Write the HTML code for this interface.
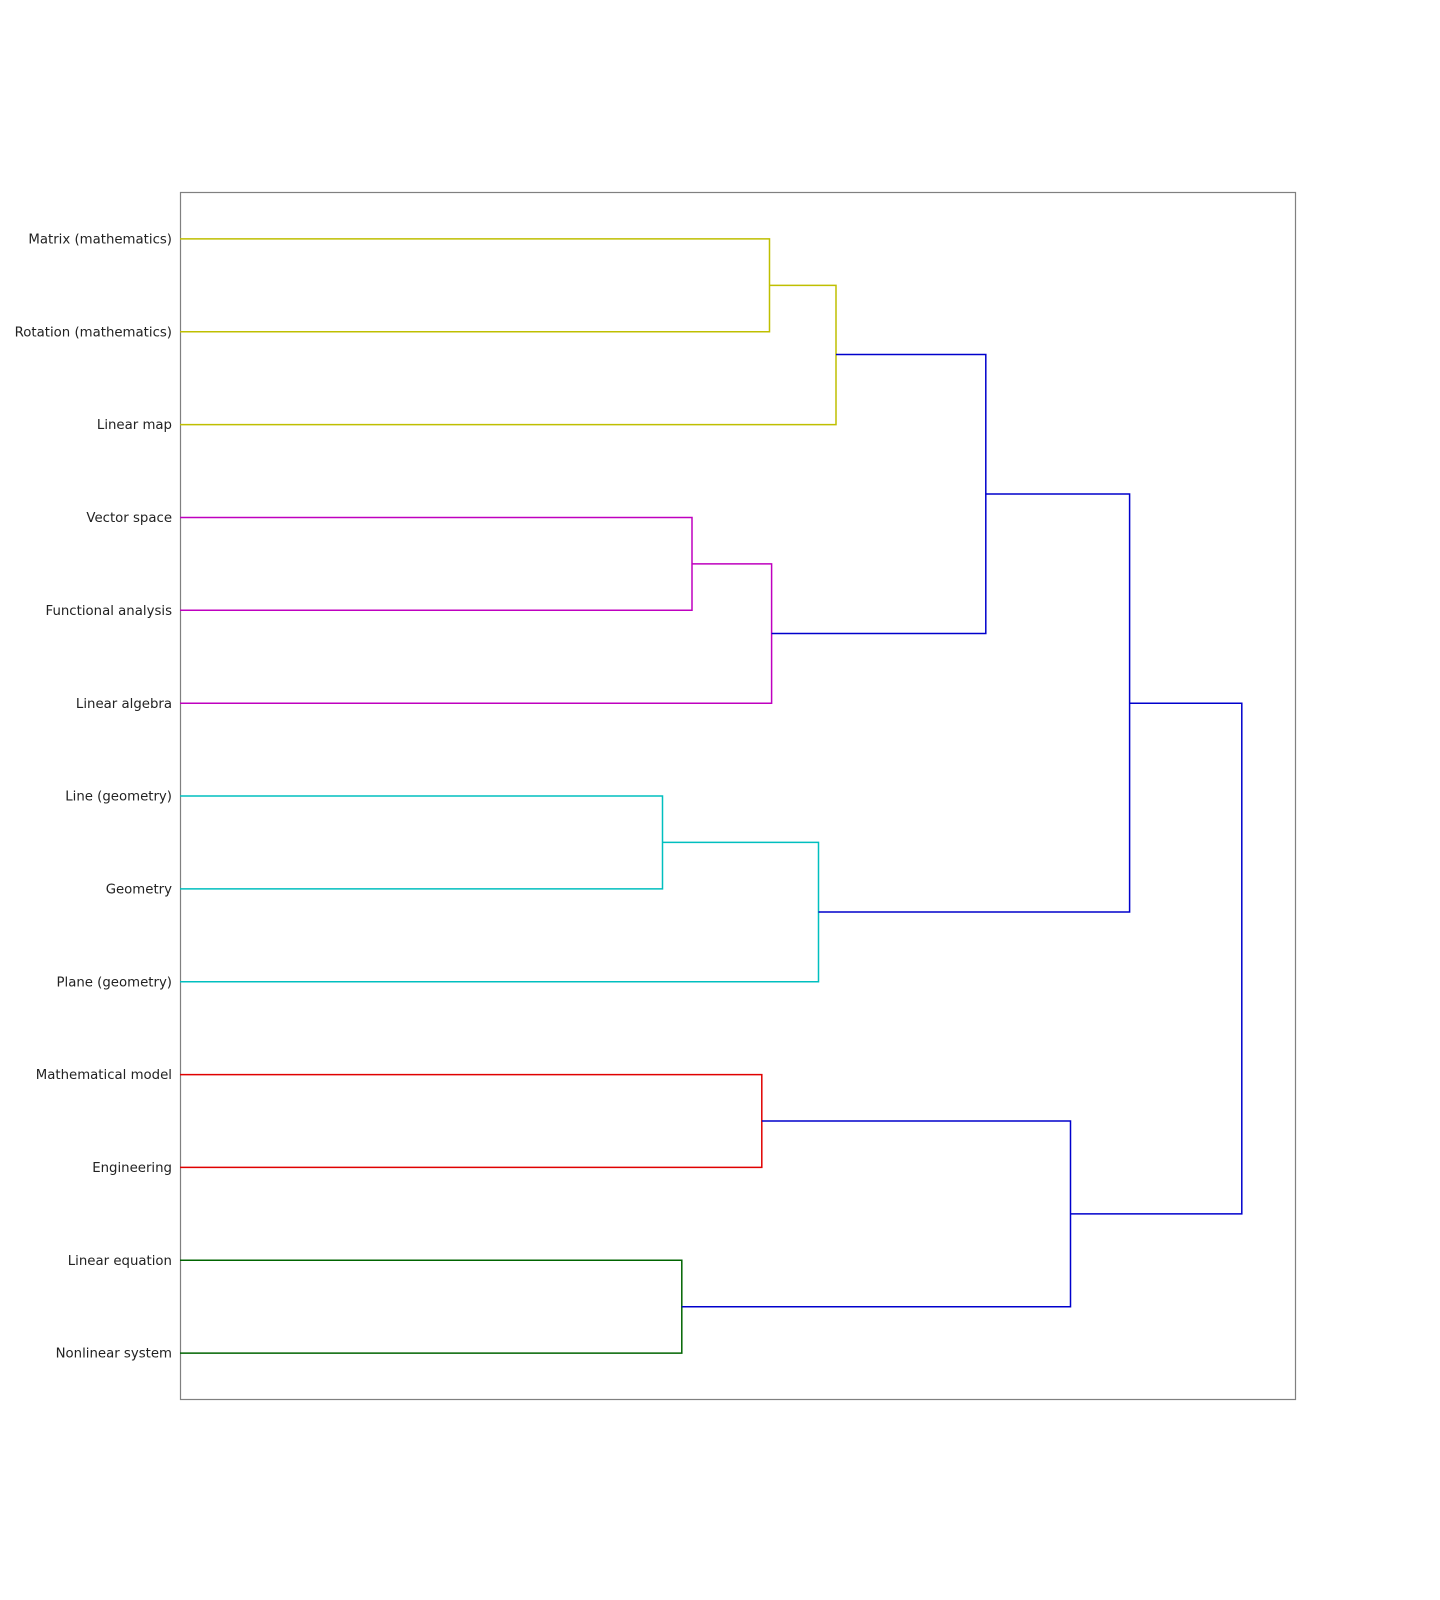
<!DOCTYPE html>
<html><head><meta charset="utf-8"><style>
html,body{margin:0;padding:0;background:#fff;}
svg{display:block;}
text{font-family:"DejaVu Sans","Liberation Sans",sans-serif;font-size:13.3px;fill:#222;}
</style></head><body>
<svg width="1440" height="1600" viewBox="0 0 1440 1600" xmlns="http://www.w3.org/2000/svg">
<rect x="180.5" y="192.5" width="1115" height="1207" fill="none" stroke="#808080" stroke-width="1.2"/>
<g fill="none" stroke-width="1.5">
<path d="M180 238.9H769.5V331.8H180" stroke="#bfbf00"/>
<path d="M769.5 285.4H836V424.6H180" stroke="#bfbf00"/>
<path d="M180 517.5H692V610.3H180" stroke="#bf00bf"/>
<path d="M692 563.9H771.6V703.2H180" stroke="#bf00bf"/>
<path d="M180 796H662.5V888.9H180" stroke="#00bfbf"/>
<path d="M662.5 842.4H818.5V981.7H180" stroke="#00bfbf"/>
<path d="M180 1074.6H761.8V1167.4H180" stroke="#e00000"/>
<path d="M180 1260.3H681.8V1353.1H180" stroke="#006400"/>
<path d="M836 354.5H985.8V633.5H771.6" stroke="#0000cc"/>
<path d="M985.8 494H1129.6V912H818.5" stroke="#0000cc"/>
<path d="M761.8 1121H1070.5V1306.7H681.8" stroke="#0000cc"/>
<path d="M1129.6 703.2H1241.8V1213.9H1070.5" stroke="#0000cc"/>
</g>
<g text-anchor="end">
<text x="172" y="243.5">Matrix (mathematics)</text>
<text x="172" y="336.4">Rotation (mathematics)</text>
<text x="172" y="429.2">Linear map</text>
<text x="172" y="522.1">Vector space</text>
<text x="172" y="614.9">Functional analysis</text>
<text x="172" y="707.8">Linear algebra</text>
<text x="172" y="800.6">Line (geometry)</text>
<text x="172" y="893.5">Geometry</text>
<text x="172" y="986.3">Plane (geometry)</text>
<text x="172" y="1079.2">Mathematical model</text>
<text x="172" y="1172">Engineering</text>
<text x="172" y="1264.9">Linear equation</text>
<text x="172" y="1357.7">Nonlinear system</text>
</g>
</svg>
</body></html>
